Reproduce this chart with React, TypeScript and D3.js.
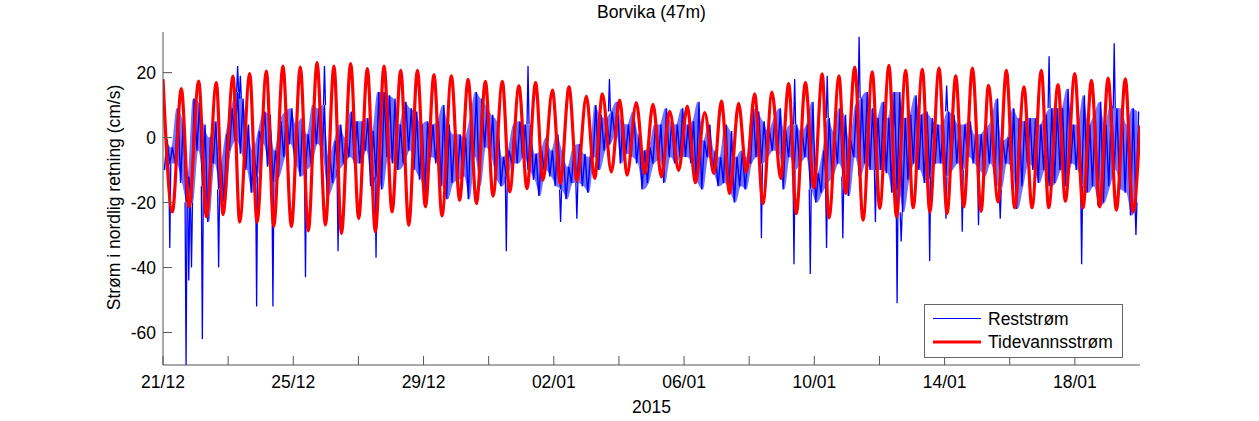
import React from "react";
import * as d3 from "d3";

// ---- Data ----
const startDate = "2014-12-21T00:00:00Z";
const endDate = "2015-01-20T00:00:00Z";

// Tidal current: turning points (hours since start, cm/s)
const tideHours = [0, 6.9, 13.5, 19.2, 26.3, 32.0, 39.3, 44.2, 51.6, 56.5, 63.9, 69.3, 76.2, 81.6, 88.4, 94.6, 101.2, 107.1, 113.5, 119.7, 126.0, 131.5, 138.3, 144.2, 150.6, 156.5, 162.9, 168.8, 175.2, 181.1, 187.5, 193.4, 199.7, 205.6, 212.5, 218.6, 224.8, 231.0, 237.6, 243.2, 250.1, 255.5, 262.3, 268.2, 274.6, 280.0, 287.0, 292.8, 299.2, 305.1, 312.0, 318.1, 323.8, 330.4, 336.6, 342.0, 348.8, 355.0, 361.1, 367.3, 373.4, 380.0, 386.4, 392.3, 399.2, 406.0, 411.5, 417.6, 424.2, 429.9, 436.0, 442.1, 448.8, 455.2, 461.1, 466.7, 473.4, 479.7, 485.8, 490.8, 498.2, 503.1, 509.8, 515.9, 522.7, 528.2, 535.0, 540.5, 547.3, 552.8, 559.6, 565.1, 571.9, 577.8, 584.2, 590.1, 596.5, 602.9, 608.3, 615.4, 621.5, 627.6, 634.5, 640.4, 647.3, 652.7, 659.6, 665.0, 671.9, 678.0, 684.2, 690.3, 696.5, 702.6, 709.2, 714.8, 720];
const tideValues = [18.0, -22.9, 15.1, -21.3, 17.4, -24.4, 16.9, -23.7, 18.9, -26.0, 19.7, -26.0, 20.5, -27.3, 22.0, -27.4, 21.7, -28.7, 23.1, -26.9, 22.0, -29.5, 22.8, -24.9, 21.2, -29.0, 22.0, -22.9, 20.7, -27.0, 20.7, -21.3, 19.4, -24.1, 19.0, -19.3, 17.9, -20.3, 17.3, -18.0, 17.3, -16.7, 15.9, -15.7, 16.9, -13.1, 14.6, -14.1, 15.6, -13.4, 12.8, -12.6, 13.5, -10.6, 11.5, -11.6, 10.8, -11.1, 10.2, -12.1, 8.1, -10.1, 9.7, -13.9, 7.7, -11.1, 11.2, -17.2, 10.5, -10.6, 13.5, -20.3, 14.0, -12.6, 16.6, -23.4, 16.9, -15.5, 19.6, -24.7, 19.0, -17.2, 21.7, -25.4, 20.2, -21.8, 22.2, -24.4, 20.7, -21.6, 21.0, -22.9, 21.4, -23.4, 19.0, -21.3, 21.4, -22.7, 16.1, -19.8, 20.7, -21.6, 15.6, -21.6, 20.7, -21.6, 16.3, -19.6, 19.7, -21.6, 17.6, -21.3, 18.3, -22.3, 18.1, -22.9, 3.8];

// Residual current: dense band of the trace, low / high per 4-hour bin (cm/s)
const binHours = 4;
const resLow = [-10, -8, -8, -14, -20, -20, -4, -15, -26, -8, -16, -20, -4, -1, -5, -10, -17, -12, -2, -9, -14, -12, -6, -2, -8, -12, -10, -8, -2, -6, -18, -14, -10, -8, -6, -8, -8, -4, -15, -12, -16, -6, -8, -10, -8, -4, -10, -13, -17, -6, -8, -15, -19, -14, -13, -12, -19, -6, -15, -3, -6, -13, -15, -12, -8, -8, -6, -10, -13, -18, -10, -12, -15, -16, -19, -14, -14, -15, -17, -6, -10, -4, -2, 1, -8, -5, -6, -8, -16, -14, -8, -7, -14, -6, -8, -6, -6, -8, -14, -16, -6, -11, -15, -14, -17, -20, -15, -16, -8, -6, -8, -6, -4, -5, -16, -6, -10, -8, -6, -16, -20, -17, -14, -12, -8, -12, -18, -6, -12, -8, -10, -10, -10, -11, -17, -16, -23, -13, -8, -10, -14, -12, -8, -8, -12, -10, -8, -10, -6, -8, -10, -12, -8, -14, -16, -8, -10, -22, -15, -8, -10, -14, -10, -15, -14, -10, -15, -8, -10, -15, -17, -15, -21, -20, -15, -10, -16, -17, -24, -20];
const resHigh = [-0.5, -3, 9, 6, -12, 12, 11, 4, 0, 5, -8, 1, 9, 14, 12, 4, -4, 2, 8, 7, -4, 5, 8, 9, 4, 6, 1, 10, 9, 10, -6, -1, 4, 0, 8, 5, 5, 6, 2, 14, 14, 13, 12, 4, 11, 9, 8, 4, 5, 4, 5, 10, 4, 1, 1, 0, 6, 14, 12, 10, 7, 5, -6, -4, 4, 5, 4, 4, -5, -4, 0, -4, 1, -4, -9, -3, -2, -5, -6, 10, 7, 6, 8, 11, 5, 4, 8, 1, -4, -3, 4, 4, 9, 5, 4, 9, 4, 5, 11, -1, 4, -4, -6, 4, 2, -6, -4, -6, 9, 8, 5, 2, 6, 9, 2, 4, 4, 2, 4, 11, -11, -4, 6, 2, 9, 7, -1, 10, 12, 14, 9, 6, 11, 6, 14, 14, 6, 7, 13, 7, 8, 6, 4, 4, 8, 7, 4, 4, 5, 1, 1, 3, 5, 12, -1, 0, 9, 6, 5, 6, 6, 4, 7, 9, 9, 9, 15, 4, 4, 13, 4, 7, 11, 4, 10, 9, 9, 4, 9, 8];
// Isolated spikes of the residual trace (hours since start, cm/s)
const spikeHours = [5, 17, 19, 21, 29, 41, 69, 81, 105, 129, 157, 253, 293, 305, 441, 465, 477, 489, 501, 525, 541, 544, 565, 577, 589, 601, 617, 677, 717, 55, 57, 119, 269, 329, 465.5, 489.5, 513, 577.5, 653, 701];
const spikeValues = [-34, -70, -44, -40, -62, -40, -52, -52, -43, -35, -37, -35, -26, -25, -31, -39, -42, -34, -31, -26, -51, -32, -38, -25, -29, -27, -25, -39, -30, 22, 19, 22, 22, 18, 18, 19, 31, 16, 25, 29];

const yTicks = [20, 0, -20, -40, -60];
const xTickDates = ["2014-12-21", "2014-12-23", "2014-12-25", "2014-12-27", "2014-12-29", "2014-12-31", "2015-01-02", "2015-01-04", "2015-01-06", "2015-01-08", "2015-01-10", "2015-01-12", "2015-01-14", "2015-01-16", "2015-01-18"];
const xLabelDates = ["2014-12-21", "2014-12-25", "2014-12-29", "2015-01-02", "2015-01-06", "2015-01-10", "2015-01-14", "2015-01-18"];

const title = "Borvika (47m)";
const yLabel = "Strøm i nordlig retning (cm/s)";
const xLabel = "2015";
const seriesNames = ["Reststrøm", "Tidevannsstrøm"];

// ---- Layout ----
const W = 1259, H = 421;
const L = 163, R = 1140, T = 32, B = 365;
const FONT = "'Liberation Sans', Arial, Helvetica, sans-serif";
const AXIS = "#555";

export default function App() {
  const t0 = new Date(startDate).getTime();
  const x = d3.scaleUtc().domain([new Date(startDate), new Date(endDate)]).range([L, R]);
  const y = d3.scaleLinear().domain([-70, 32.5]).range([B, T]);
  const hour = (h: number) => new Date(t0 + h * 3600e3);

  const tidePts: [number, number][] = tideHours.map((h, i) => [x(hour(h)), y(tideValues[i])]);
  const tidePath = d3.line().curve(d3.curveMonotoneX)(tidePts) || "";

  // zig-zag through the band
  const resPts: [number, number][] = [];
  resLow.forEach((lo, i) => {
    resPts.push([x(hour(i * binHours + 1)), y(lo)]);
    resPts.push([x(hour(i * binHours + 3)), y(resHigh[i])]);
  });
  const resPath = d3.line()(resPts) || "";

  // band fill
  const bandPath =
    d3
      .area<number>()
      .x((_, i) => x(hour(i * binHours + 2)))
      .y0((lo) => y(lo))
      .y1((_, i) => y(resHigh[i]))
      .curve(d3.curveMonotoneX)(resLow) || "";

  const binOf = (h: number) => Math.min(resLow.length - 1, Math.floor(h / binHours));

  const fmt = d3.utcFormat("%d/%m");
  const tickLen = 9;

  return (
    <svg width={W} height={H} style={{ position: "absolute", left: 0, top: 0, background: "#fff" }} fontFamily={FONT}>
      <defs>
        <clipPath id="plotclip">
          <rect x={L} y={T} width={R - L} height={B - T} />
        </clipPath>
      </defs>
      <rect x={0} y={0} width={W} height={H} fill="#fff" />
      <g clipPath="url(#plotclip)">
        <path d={bandPath} fill="#0000ff" fillOpacity={0.55} stroke="none" />
        <path d={resPath} fill="none" stroke="#0000ff" strokeWidth={1.4} />
        {spikeHours.map((h, i) => {
          const b = binOf(h);
          const v = spikeValues[i];
          const from = v < 0 ? resLow[b] : resHigh[b];
          const px = x(hour(h));
          return (
            <path
              key={"s" + i}
              d={`M${px - 1},${y(from)}L${px},${y(v)}L${px + 1},${y(from)}`}
              fill="none"
              stroke="#0000ff"
              strokeWidth={1.3}
            />
          );
        })}
        <path d={tidePath} fill="none" stroke="#ff0000" strokeWidth={3.2} strokeLinejoin="round" />
      </g>
      {/* axes */}
      <line x1={L} x2={L} y1={T} y2={B} stroke={AXIS} strokeWidth={1} />
      <line x1={L} x2={R} y1={B} y2={B} stroke={AXIS} strokeWidth={1} />
      {yTicks.map((v) => (
        <g key={"y" + v}>
          <line x1={L} x2={L + tickLen} y1={y(v)} y2={y(v)} stroke={AXIS} />
          <text x={L - 7} y={y(v)} dy="0.35em" textAnchor="end" fontSize={17.5} fill="#000">{v}</text>
        </g>
      ))}
      {xTickDates.map((d) => {
        const px = x(new Date(d + "T00:00:00Z"));
        return <line key={"xt" + d} x1={px} x2={px} y1={B} y2={B - tickLen} stroke={AXIS} />;
      })}
      {xLabelDates.map((d) => {
        const dt = new Date(d + "T00:00:00Z");
        return (
          <text key={"xl" + d} x={x(dt)} y={388} textAnchor="middle" fontSize={17.5} fill="#000">{fmt(dt)}</text>
        );
      })}
      <text x={(L + R) / 2} y={413} textAnchor="middle" fontSize={17.5} fill="#000">{xLabel}</text>
      <text transform={`translate(120,${(T + B) / 2 - 1}) rotate(-90)`} textAnchor="middle" fontSize={17.5} fill="#000">{yLabel}</text>
      <text x={(L + R) / 2} y={18} textAnchor="middle" fontSize={17.5} fill="#000">{title}</text>
      {/* legend */}
      <g>
        <rect x={924.5} y={304.5} width={198} height={53} fill="#fff" stroke="#666" strokeWidth={1} />
        <line x1={933} x2={981} y1={318.5} y2={318.5} stroke="#0000ff" strokeWidth={1} />
        <line x1={933} x2={981} y1={342} y2={342} stroke="#ff0000" strokeWidth={3} />
        <text x={988} y={318.5} dy="0.35em" fontSize={17.5} fill="#000">{seriesNames[0]}</text>
        <text x={988} y={342} dy="0.35em" fontSize={17.5} fill="#000">{seriesNames[1]}</text>
      </g>
    </svg>
  );
}
